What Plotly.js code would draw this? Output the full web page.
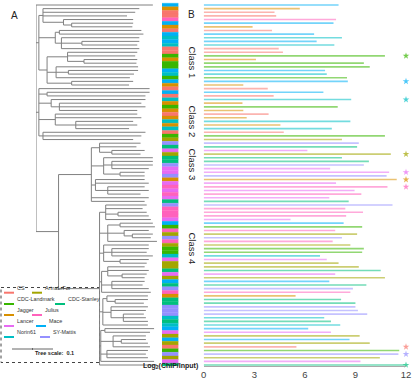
<!DOCTYPE html>
<html><head><meta charset="utf-8">
<script src="https://cdn.plot.ly/plotly-3.0.1.min.js"></script>
<style>html,body{margin:0;padding:0;background:#fff}#chart{width:414px;height:380px}</style>
</head><body><div id="chart"></div>
<script>
// ---------------- DATA ----------------
const varieties = ["CS","ArinaLrFor","CDC-Landmark","CDC-Stanley","Jagger","Julius","Lancer","Mace","Norin61","SY-Mattis"];
const varietyColors = ["#F8766D","#A3A500","#39B600","#00BF7D","#D89000","#FF62BC","#E76BF3","#00B0F6","#00BFC4","#9590FF"];

// variety of each of the 100 rows (top to bottom)
const rowVariety = [
 "Mace","Jagger","CS","CS","Julius","Mace","Jagger","CS","Mace","Norin61",
 "Mace","Norin61","CS","CS","CDC-Landmark","Jagger","CDC-Landmark","CDC-Landmark","Mace","Norin61",
 "CDC-Landmark","Mace","Jagger","CS","Mace","CS","Norin61","Jagger","CDC-Landmark","Jagger",
 "CS","Jagger","Norin61","Jagger","Norin61","CS","CDC-Landmark","ArinaLrFor","SY-Mattis","CDC-Stanley",
 "Lancer","ArinaLrFor","CDC-Stanley","CDC-Stanley","SY-Mattis","Lancer","Lancer","SY-Mattis","Jagger","Lancer",
 "Julius","Lancer","Julius","Lancer","CDC-Stanley","SY-Mattis","Julius","Julius","Julius","Lancer",
 "Mace","CDC-Landmark","Julius","ArinaLrFor","SY-Mattis","Julius","ArinaLrFor","CDC-Landmark","CDC-Landmark","Norin61",
 "Lancer","ArinaLrFor","ArinaLrFor","CDC-Stanley","Lancer","ArinaLrFor","Mace","CDC-Stanley","SY-Mattis","Julius",
 "Jagger","CDC-Stanley","CDC-Stanley","SY-Mattis","SY-Mattis","SY-Mattis","Norin61","CDC-Stanley","Norin61","Mace",
 "Lancer","ArinaLrFor","Mace","ArinaLrFor","CS","CDC-Landmark","SY-Mattis","ArinaLrFor","Lancer","CDC-Stanley"
];
// Log2(ChIP/Input) of each row
const log2Ratio = [
 8.0,5.7,4.2,4.3,7.85,7.7,2.9,4.05,6.55,8.2,
 6.7,7.75,4.45,4.7,10.75,3.1,9.5,9.85,7.2,7.3,
 8.5,8.55,2.35,3.8,7.1,4.15,8.75,2.3,7.95,2.35,
 3.85,2.55,8.7,4.55,7.6,4.75,10.75,8.2,9.2,9.1,
 6.15,11.1,8.2,9.8,9.5,7.5,11.0,10.85,11.45,7.85,
 10.9,8.95,9.35,7.45,8.6,11.2,8.4,9.45,8.45,5.15,
 8.3,9.4,7.8,9.1,8.2,7.65,8.7,9.5,9.4,6.9,
 7.3,8.0,9.2,10.5,7.8,10.75,7.45,9.65,8.85,8.7,
 5.45,8.15,9.0,9.0,9.15,9.7,7.15,7.55,8.1,6.2,
 7.55,9.25,8.65,9.85,5.5,11.6,11.55,10.45,9.3,11.9
];
// rows marked with a star
const starredRows = [15,22,27,42,47,49,51,95,97,100];
const classNames = ["Class 1","Class 2","Class 3","Class 4"];
const tickValues = [0,3,6,9,12];
const treeScaleLabel = "Tree scale:  0.1";
// phylogeny (branch lengths, leaves in row order)
const treeNewick =
 "(:0.285," +
 "((:0.235,:0.225,:0.205,(:0.17,(:0.15,:0.148):0.02):0.05):0.01," +
 "((:0.2,:0.205):0.01,(:0.19,(:0.14,:0.135):0.05,:0.19):0.015):0.04," +
 "((:0.17,:0.165,(:0.13,:0.128):0.04):0.05,(:0.2,(:0.17,:0.16):0.03,:0.18):0.022,(:0.15,:0.14):0.06):0.02):0.007," +
 "(:0.27,(:0.25,:0.24):0.02,(:0.23,(:0.2,:0.21,:0.19):0.02):0.03,(:0.2,:0.21,(:0.14,:0.15,:0.13):0.05):0.04,(:0.25,:0.24,:0.22):0.01):0.007," +
 "(((:0.1,:0.09,(:0.08,:0.07):0.03):0.02,(:0.12,(:0.1,:0.1,:0.09):0.02,(:0.06,:0.06):0.04):0.03,(:0.12,:0.13,(:0.09,:0.1,:0.08):0.03):0.01,:0.14,:0.13):0.08," +
 "((:0.1,:0.09,(:0.07,:0.075):0.03,:0.11):0.015,((:0.08,:0.085):0.03,(:0.06,(:0.05,:0.045):0.02):0.04,:0.12):0.02,(:0.11,(:0.09,:0.085,:0.1):0.02,(:0.07,:0.065):0.04):0.01,((:0.09,:0.1,(:0.06,:0.055):0.035):0.015,(:0.08,:0.075,:0.09):0.025,:0.12):0.005,((:0.1,(:0.08,:0.07):0.02):0.01,(:0.09,:0.085,(:0.05,:0.055,:0.06):0.03):0.02,:0.11):0.008,((:0.12,:0.11):0.01,(:0.08,(:0.06,:0.065):0.02,:0.09):0.03,(:0.1,:0.095,:0.1):0.015,:0.13):0.003,:0.14):0.1" +
 "):0.055);";

// ---------------- HELPERS ----------------
const W = 414, H = 380;
const px = x => x / W, py = y => 1 - y / H;
const colorOf = v => varietyColors[varieties.indexOf(v)];
function rgba(hex, a) {
  const n = parseInt(hex.slice(1), 16);
  return `rgba(${(n>>16)&255},${(n>>8)&255},${n&255},${a})`;
}
function parseNewick(s) {
  let i = 0;
  function node() {
    const n = {children: [], len: 0};
    if (s[i] === '(') {
      i++;
      n.children.push(node());
      while (s[i] === ',') { i++; n.children.push(node()); }
      i++; // ')'
    }
    while (i < s.length && s[i] !== ':' && s[i] !== ',' && s[i] !== ')' && s[i] !== ';') i++;
    if (s[i] === ':') {
      i++; let t = '';
      while (i < s.length && /[0-9.eE\-]/.test(s[i])) t += s[i++];
      n.len = parseFloat(t);
    }
    return n;
  }
  return node();
}
const rows = log2Ratio.map((_, k) => k + 1);

// tree layout
const tree = parseNewick(treeNewick);
let leafCounter = 0;
function layout(n, x0) {
  n.x = x0 + n.len;
  if (!n.children.length) { n.y = rows[leafCounter++]; return; }
  n.children.forEach(c => layout(c, n.x));
  n.y = (n.children[0].y + n.children[n.children.length - 1].y) / 2;
}
tree.len = 0;
layout(tree, 0);
const tx = [], ty = [];
(function walk(n, parentX) {
  if (parentX !== null) { tx.push(parentX, n.x, null); ty.push(n.y, n.y, null); }
  if (n.children.length) {
    tx.push(n.x, n.x, null);
    ty.push(n.children[0].y, n.children[n.children.length - 1].y, null);
    n.children.forEach(c => walk(c, n.x));
  }
})(tree, null);

// ---------------- TRACES ----------------
const traces = [
  {type: 'scatter', mode: 'lines', x: tx, y: ty, xaxis: 'x', yaxis: 'y',
   line: {color: '#808080', width: 1}, hoverinfo: 'skip', showlegend: false},
  {type: 'bar', orientation: 'h', x: rows.map(() => 1), y: rows, width: 1,
   xaxis: 'x2', yaxis: 'y',
   marker: {color: rowVariety.map(colorOf), line: {width: 0.3, color: rowVariety.map(colorOf)}},
   hoverinfo: 'skip', showlegend: false},
  {type: 'bar', orientation: 'h', x: log2Ratio, y: rows, width: 0.45,
   xaxis: 'x3', yaxis: 'y',
   marker: {color: rowVariety.map(v => rgba(colorOf(v), 0.55)), line: {width: 0}},
   showlegend: false},
  {type: 'scatter', mode: 'markers', x: starredRows.map(() => tickValues[tickValues.length - 1]),
   y: starredRows, xaxis: 'x3', yaxis: 'y', cliponaxis: false,
   marker: {symbol: 'star', size: 5, color: starredRows.map(r => rgba(colorOf(rowVariety[r - 1]), 0.7))},
   showlegend: false}
];

// ---------------- ANNOTATIONS / SHAPES ----------------
const font = 'Liberation Sans, Arial, sans-serif';
const ann = [];
const shapes = [];
ann.push({text: 'A', x: px(9), y: py(8), xref: 'paper', yref: 'paper', showarrow: false, font: {family: font, size: 10, color: '#222'}});
ann.push({text: 'B', x: px(191), y: py(7), xref: 'paper', yref: 'paper', showarrow: false, font: {family: font, size: 10, color: '#222'}});
const classCentersPx = [44, 103, 164, 266];
classNames.forEach((c, k) => ann.push({text: c, x: px(192.5), y: py(classCentersPx[k]), xref: 'paper', yref: 'paper',
  showarrow: false, textangle: 90, font: {family: font, size: 9.5, color: '#222'}}));
ann.push({text: '<b>Log<sub>2</sub>(ChIP/Input)</b>', x: px(170), y: py(372), xref: 'paper', yref: 'paper',
  showarrow: false, font: {family: font, size: 7, color: '#222'}});

// legend box
shapes.push({type: 'rect', xref: 'paper', yref: 'paper', x0: px(1), x1: px(99.5), y0: py(287.5), y1: py(362.5),
  line: {color: '#444', width: 1, dash: 'dot'}, fillcolor: 'rgba(255,255,255,1)', layer: 'below'});
const legendRowY = [292.7, 304, 315, 326, 337];
const rightColX = [32, 55, 32, 36, 40];
varieties.forEach((v, k) => {
  const r = Math.floor(k / 2), col = k % 2;
  const lx = col === 0 ? 4 : rightColX[r];
  const yy = legendRowY[r];
  shapes.push({type: 'line', xref: 'paper', yref: 'paper', x0: px(lx), x1: px(lx + 10), y0: py(yy), y1: py(yy),
    line: {color: varietyColors[k], width: 2}});
  ann.push({text: v, x: px(lx + 11), y: py(yy), xref: 'paper', yref: 'paper', xanchor: 'left', showarrow: false,
    font: {family: font, size: 5.4, color: '#333'}});
});
// tree scale bar
shapes.push({type: 'line', xref: 'paper', yref: 'paper', x0: px(12), x1: px(53), y0: py(349), y1: py(349), line: {color: '#666', width: 1}});
shapes.push({type: 'line', xref: 'paper', yref: 'paper', x0: px(32.5), x1: px(32.5), y0: py(348), y1: py(350), line: {color: '#666', width: 1}});
ann.push({text: '<b>' + treeScaleLabel + '</b>', x: px(33), y: py(357.5), xref: 'paper', yref: 'paper', showarrow: false,
  font: {family: font, size: 5.5, color: '#222'}});

// ---------------- LAYOUT ----------------
const layoutObj = {
  width: W, height: H, margin: {l: 0, r: 0, t: 0, b: 0},
  paper_bgcolor: '#fff', plot_bgcolor: 'rgba(0,0,0,0)',
  barmode: 'overlay', showlegend: false,
  yaxis: {domain: [14 / H, 1], range: [100.275, -0.375], visible: false, fixedrange: true},
  xaxis: {domain: [px(36), px(159)], range: [0, 0.3], visible: false, anchor: 'y'},
  xaxis2: {domain: [px(162), px(178.5)], range: [0, 1], visible: false, anchor: 'y'},
  xaxis3: {domain: [px(203.7), px(406)], range: [0, 12], anchor: 'y',
    tickvals: tickValues, ticktext: tickValues.map(String), showgrid: false, zeroline: false,
    showline: true, linecolor: '#aaa', linewidth: 1, ticks: '', ticklen: 0,
    tickfont: {family: font, size: 9.5, color: '#444'}},
  annotations: ann, shapes: shapes
};
Plotly.newPlot('chart', traces, layoutObj, {staticPlot: true, displayModeBar: false});
</script>
</body></html>
